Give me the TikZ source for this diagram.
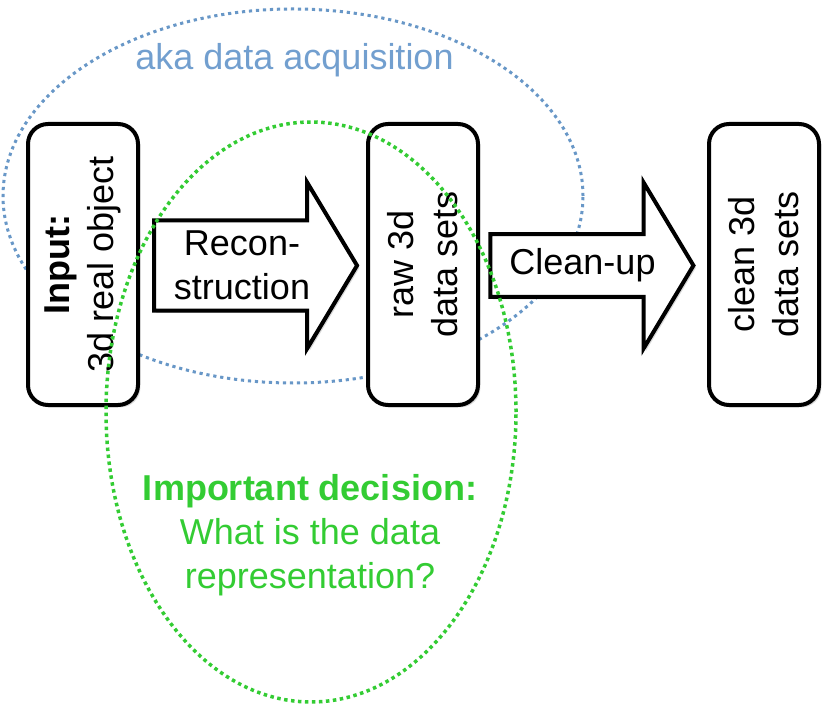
\documentclass[tikz,border=0pt]{standalone}
\usepackage{fontspec}
\setmainfont{Liberation Sans}
\usetikzlibrary{calc}
\usetikzlibrary{shapes.geometric}
\usetikzlibrary{shapes.arrows}
\usetikzlibrary{shadows}
\definecolor{acqBlue}{RGB}{114,159,207}
\definecolor{acqLine}{RGB}{104,151,199}
\definecolor{decGreen}{RGB}{51,204,51}
\tikzstyle{softshadow} = [drop shadow={shadow xshift=1.2pt, shadow yshift=-1.2pt, fill=black, opacity=0.15}]
\tikzstyle{stagenode} = [draw, line width=2pt, rounded corners=10pt, fill=white, rotate=90, minimum width=140.5pt, minimum height=55pt, inner sep=0pt, align=center, softshadow]
\tikzstyle{stepnode} = [single arrow, draw, line width=2pt, fill=white, minimum height=101.5pt, minimum width=83pt, single arrow head extend=15.4pt, single arrow tip angle=118, inner sep=0pt, align=center, softshadow]
\tikzstyle{ringnode} = [ellipse, inner sep=0pt]
\tikzstyle{colorAcq} = [draw=acqLine, line width=1.5pt, dash pattern=on 1.6pt off 1.9pt]
\tikzstyle{colorDec} = [draw=decGreen, line width=1.75pt, dash pattern=on 1.75pt off 1.75pt]
\tikzstyle{bigtext} = [font=\fontsize{18}{22}\selectfont]

\begin{document}
\begin{tikzpicture}[x=0.5pt, y=-0.5pt]
\useasboundingbox (0,0) rectangle (833,715);
\node[ringnode, colorAcq, minimum width=290pt, minimum height=187pt] (acq_ring) at (293,196) {};
\node[bigtext, text=acqBlue] (acq_label) at (294.5,60) {aka data acquisition};

\node[stagenode, bigtext] (input) at (83,264.5) {\textbf{Input:}\\3d real object};
\node[stagenode, bigtext] (raw) at ($(input)+(340,0)$) {raw 3d\\data sets};
\node[stagenode, bigtext] (clean) at ($(raw)+(341,0)$) {clean 3d\\data sets};

\node[stepnode, bigtext] (recon) at ($(input)!0.5!(raw)+(-11,1)$) {Recon-\\struction};
\node[stepnode, bigtext] (cleanup) at ($(raw)!0.5!(clean)+(-11,1)$) {Clean-up};

\node[ringnode, colorDec, minimum width=205pt, minimum height=290pt] (dec_ring) at (311,412) {};
\node[bigtext, text=decGreen, align=center] (dec_label) at (310,535) {\textbf{Important decision:}\\What is the data\\representation?};
\end{tikzpicture}
\end{document}
